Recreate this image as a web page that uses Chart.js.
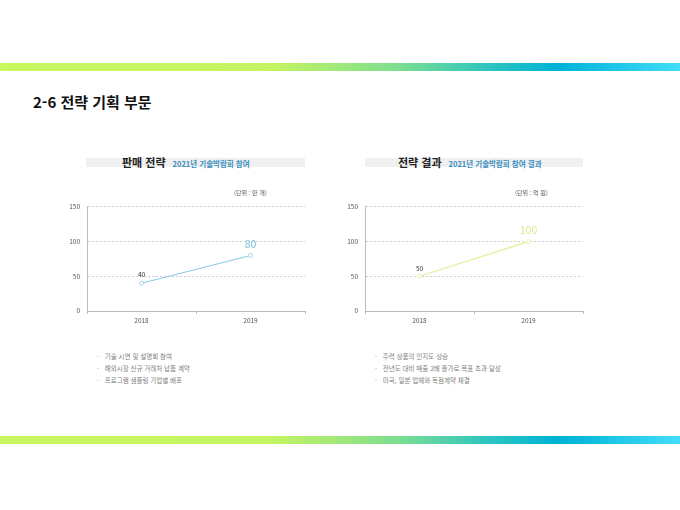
<!DOCTYPE html>
<html lang="ko">
<head>
<meta charset="utf-8">
<script src="https://cdn.jsdelivr.net/npm/chart.js@4.4.1/dist/chart.umd.min.js"></script>
<style>
  body { margin: 0; width: 680px; height: 510px; background: #fff; position: relative; overflow: hidden;
         font-family: "Noto Sans CJK KR", "Noto Sans", sans-serif; }
  .band { position: absolute; left: 0; width: 680px; height: 8px;
          background: linear-gradient(90deg, #c8f760 0%, #c4f462 40%, #7fdf8e 58%, #2ec4c0 72%, #00b2d6 82%, #42dcfa 100%); }
  .title { position: absolute; left: 33px; top: 91px; font-size: 15px; font-weight: 700; color: #111; }
  .hbar { position: absolute; top: 158px; height: 9px; background: #f0f0f0; }
  .head { position: absolute; top: 148px; white-space: nowrap; }
  .head b { font-size: 11px; color: #222; margin-right: 7px; }
  .head span { font-size: 7.5px; font-weight: 700; color: #3a8fbf; }
  .unit { position: absolute; top: 188px; font-size: 6px; color: #555; }
  canvas { position: absolute; }
  ul { position: absolute; top: 350px; margin: 0; padding: 0; list-style: none; font-size: 6.5px; color: #808080; }
  li { height: 12px; line-height: 12px; }
  li:before { content: "·"; margin-right: 6px; color: #999; }
</style>
</head>
<body>
<div class="band" style="top:63px"></div>
<div class="band" style="top:436px"></div>
<div class="title">2-6 전략 기획 부문</div>

<div class="hbar" style="left:86px;width:219px"></div>
<div class="head" style="left:122px"><b>판매 전략</b><span>2021년 기술박람회 참여</span></div>
<div class="unit" style="left:234px">(단위 : 만 개)</div>
<canvas id="salesChart" width="250" height="135" style="left:60px;top:196px"></canvas>

<div class="hbar" style="left:365px;width:218px"></div>
<div class="head" style="left:398px"><b>전략 결과</b><span>2021년 기술박람회 참여 결과</span></div>
<div class="unit" style="left:515px">(단위 : 억 원)</div>
<canvas id="resultChart" width="250" height="135" style="left:338px;top:196px"></canvas>

<ul style="left:97px">
  <li>기술 시연 및 설명회 참여</li>
  <li>해외시장 신규 거래처 납품 계약</li>
  <li>프로그램 샘플링 기업별 배포</li>
</ul>
<ul style="left:375px">
  <li>주력 상품의 인지도 상승</li>
  <li>전년도 대비 매출 2배 증가로 목표 초과 달성</li>
  <li>미국, 일본 업체와 독점계약 체결</li>
</ul>

<script>
const years = ['2018', '2019'];
const salesValues = [40, 80];
const resultValues = [50, 100];
const yTicks = [0, 50, 100, 150];

const FONT = '"Noto Sans CJK KR", "Noto Sans", sans-serif';

// draws the value above each point, last one bigger and coloured
const pointLabels = {
    id: 'pointLabels',
    afterDatasetsDraw(chart, args, opts) {
        const ctx = chart.ctx;
        const meta = chart.getDatasetMeta(0);
        const data = chart.data.datasets[0].data;
        ctx.save();
        ctx.textAlign = 'center';
        ctx.textBaseline = 'bottom';
        meta.data.forEach((pt, i) => {
            const last = i === data.length - 1;
            ctx.font = (last ? '10.5px ' : '6.5px ') + FONT;
            ctx.fillStyle = last ? opts.color : '#333';
            ctx.fillText(String(data[i]), pt.x, pt.y - (last ? 6 : 5));
        });
        ctx.restore();
    }
};

function createLineChart(id, values, color, labelColor) {
    new Chart(document.getElementById(id), {
        type: 'line',
        data: {
            labels: years,
            datasets: [{
                data: values,
                borderColor: color,
                borderWidth: 1.2,
                pointRadius: 2,
                pointBorderWidth: 0.8,
                pointBackgroundColor: '#fff',
                pointBorderColor: color,
                tension: 0
            }]
        },
        options: {
            responsive: false,
            animation: false,
            layout: { padding: { top: 10, right: 5, bottom: 0, left: 0 } },
            plugins: {
                legend: { display: false },
                tooltip: { enabled: false },
                pointLabels: { color: labelColor }
            },
            scales: {
                x: {
                    offset: true,
                    grid: { offset: true, drawOnChartArea: false, tickLength: 3, color: '#bbb' },
                    border: { color: '#bbb' },
                    ticks: { font: { family: FONT, size: 6.5 }, color: '#555', padding: 3 },
                    afterFit: s => { s.height = 20; }
                },
                y: {
                    min: 0,
                    max: 150,
                    afterBuildTicks: s => { s.ticks = yTicks.map(v => ({ value: v })); },
                    grid: {
                        drawTicks: false,
                        color: ctx => ctx.tick.value === 0 ? 'rgba(0,0,0,0)' : '#cfcfcf'
                    },
                    border: { color: '#bbb', dash: [2, 2] },
                    ticks: { font: { family: FONT, size: 6.5 }, color: '#555', padding: 7 },
                    afterFit: s => { s.width = 27; }
                }
            }
        },
        plugins: [pointLabels]
    });
}

createLineChart('salesChart', salesValues, '#8fcae3', '#78c0dc');
createLineChart('resultChart', resultValues, '#e4ee9a', '#dfe98a');
</script>
</body>
</html>
